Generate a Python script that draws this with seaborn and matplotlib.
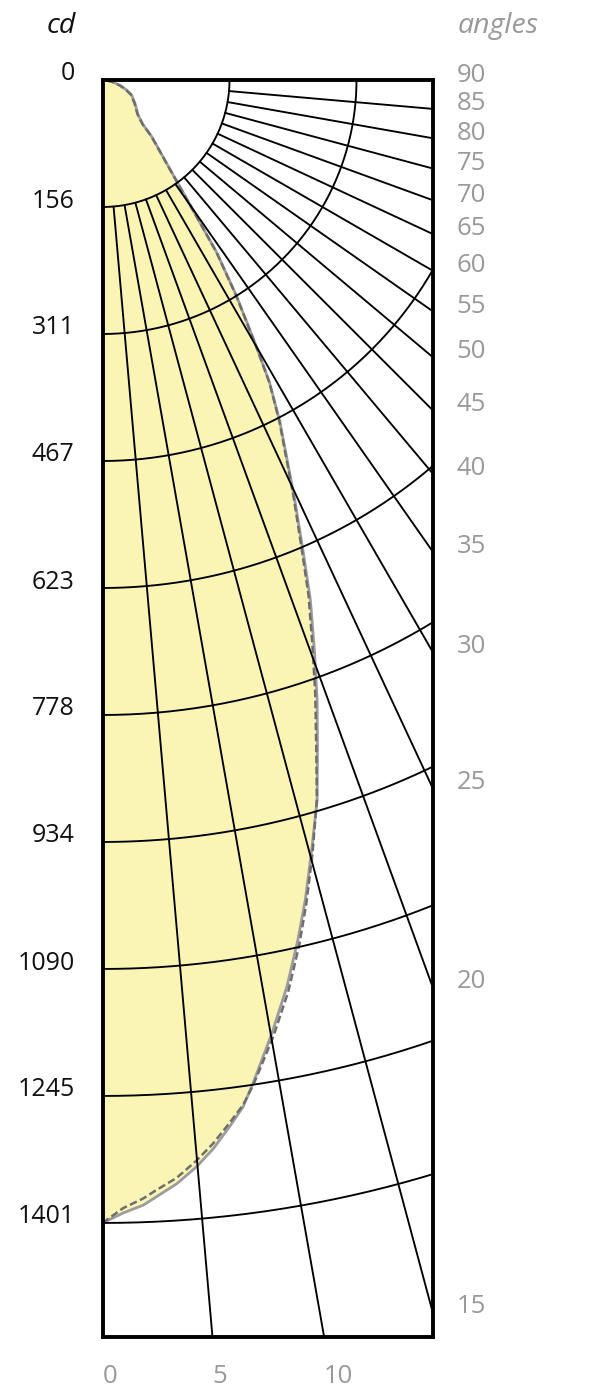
import numpy as np
import pandas as pd
import matplotlib.pyplot as plt
import seaborn as sns

sns.set_style("white")
plt.rcParams['font.family'] = ['Open Sans', 'DejaVu Sans']

# luminous intensity curve, angle from the downward axis (deg) -> cd
curve_angles = [0, 1.05, 2.08, 2.8, 3.85, 4.95, 5.92, 6.94, 7.81, 8.55, 10.1, 11.5,
                12.8, 13.9, 15.2, 16.6, 17.8, 19.1, 20.4, 21.8, 23.1, 24.6, 27.4,
                28.9, 30.0, 31.8, 33.5, 34.3, 35.5, 37.4, 41.0, 42.2, 45.6, 54.4,
                62.8, 67.5, 72, 78, 84, 90]
cd_solid = [1401, 1389, 1380, 1370, 1356, 1337, 1317, 1292, 1270, 1243, 1186, 1134,
            1081, 1035, 978, 921, 862, 804, 745, 686, 626, 566, 473,
            424, 377, 312, 254, 214, 173, 132, 92, 74, 61, 49,
            40, 32, 24, 14, 6, 0]
cd_dashed = [1401, 1383, 1372, 1362, 1349, 1330, 1311, 1288, 1268, 1245, 1192, 1141,
             1088, 1040, 982, 920, 857, 797, 738, 680, 621, 563, 471,
             423, 376, 311, 253, 213, 172, 131, 91, 73, 60, 48,
             39, 31, 23, 14, 6, 0]

cd_max = 1401
cd_ticks = [0, 156, 311, 467, 623, 778, 934, 1090, 1245, 1401]
grid_angles = list(range(0, 91, 5))
right_labels = [15, 20, 25, 30, 35, 40, 45, 50, 55, 60, 65, 70, 75, 80, 85, 90]
bottom_labels = [0, 5, 10]

x_max = 404.5
y_max = 1540.8

def polar_df(ang, vals):
    t = np.radians(ang)
    v = np.array(vals, dtype=float)
    return pd.DataFrame({"x": v * np.sin(t), "y": v * np.cos(t)})

solid = polar_df(curve_angles, cd_solid)
dashed = polar_df(curve_angles, cd_dashed)

fig = plt.figure(figsize=(5.94, 13.89), dpi=100)
ax = fig.add_axes([102.5 / 594, 52 / 1389, 330 / 594, 1257 / 1389])

# yellow fill
ax.fill(np.r_[solid["x"], 0], np.r_[solid["y"], 0], color="#faf5b5", lw=0, zorder=1)

sns.lineplot(data=solid, x="x", y="y", sort=False, estimator=None, ax=ax,
             color="#9c9c9c", lw=2.0, zorder=2)
sns.lineplot(data=dashed, x="x", y="y", sort=False, estimator=None, ax=ax,
             color="#6e6e6e", lw=1.8, zorder=3)
ax.lines[-1].set_linestyle((0, (3, 1.4)))

# polar grid
step = cd_max / 9
arc = np.radians(np.linspace(0, 90, 300))
for k in range(1, 10):
    r = step * k
    ax.plot(r * np.sin(arc), r * np.cos(arc), color="black", lw=1.35, zorder=4)
for a in grid_angles:
    t = np.radians(a)
    ax.plot([step * np.sin(t), 3000 * np.sin(t)], [step * np.cos(t), 3000 * np.cos(t)],
            color="black", lw=1.35, zorder=4)

ax.set_xlim(0, x_max)
ax.set_ylim(y_max, 0)
ax.set_xticks([])
ax.set_yticks([])
ax.set_xlabel("")
ax.set_ylabel("")
for sp in ax.spines.values():
    sp.set_visible(True)
    sp.set_color("black")
    sp.set_linewidth(2.8)
    sp.set_zorder(6)

# cd labels
for v in cd_ticks:
    ax.annotate(str(v), (0, v), xytext=(-28, 6), textcoords="offset pixels",
                ha="right", va="center", fontsize=18, color="#111111",
                annotation_clip=False)

# angle labels on the right edge
for a in right_labels:
    y = x_max / np.tan(np.radians(a)) if a < 90 else 0
    ax.annotate(str(a), (x_max, y), xytext=(24, -1.5), textcoords="offset pixels",
                ha="left", va="baseline", fontsize=18.5, color="#999999",
                annotation_clip=False)

# angle labels at the bottom
for a in bottom_labels:
    ax.annotate(str(a), (y_max * np.tan(np.radians(a)), y_max), xytext=(0, -46),
                textcoords="offset pixels", ha="left", va="baseline",
                fontsize=18.5, color="#999999", annotation_clip=False)

fig.text(61.5 / 594, 1 - 33 / 1389, "cd", ha="center", va="baseline",
         fontsize=20.5, style="italic", color="#111111")
fig.text(498 / 594, 1 - 33 / 1389, "angles", ha="center", va="baseline",
         fontsize=20.5, style="italic", color="#999999")

fig.savefig("out.png", dpi=100)
